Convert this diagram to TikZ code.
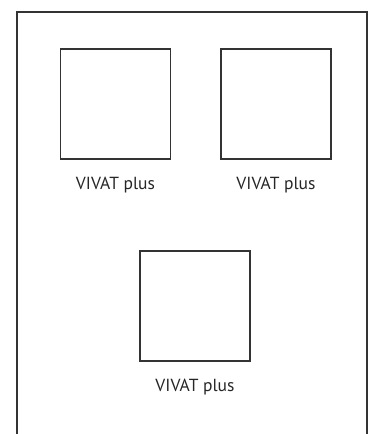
\documentclass[tikz,border=0pt]{standalone}
\usepackage{fontspec}
\setmainfont{PT Sans}
\begin{document}
\begin{tikzpicture}[x=1pt,y=-1pt,
  frame/.style={draw=black!80,line width=1.4pt},
  unitbox/.style={draw=black!80,line width=1.2pt,minimum width=110pt,minimum height=110pt,inner sep=0pt},
  lbl/.style={font=\fontsize{17.5}{20}\selectfont,text=black!85,inner sep=0pt}]
\useasboundingbox (0,0) rectangle (371,434);
\coordinate (bl) at (17,440);
\coordinate (tl) at (17,12);
\coordinate (tr) at (367,12);
\coordinate (br) at (367,440);
\draw[frame] (bl) -- (tl) -- (tr) -- (br);
\node[unitbox] (b1) at (115.5,104) {};
\node[unitbox] (b2) at (276,104) {};
\node[unitbox] (b3) at (195,306) {};
\node[lbl,anchor=north] (l1) at ([yshift=-17pt]b1.south) {VIVAT plus};
\node[lbl,anchor=north] (l2) at ([yshift=-17pt]b2.south) {VIVAT plus};
\node[lbl,anchor=north] (l3) at ([yshift=-17pt]b3.south) {VIVAT plus};
\end{tikzpicture}
\end{document}
